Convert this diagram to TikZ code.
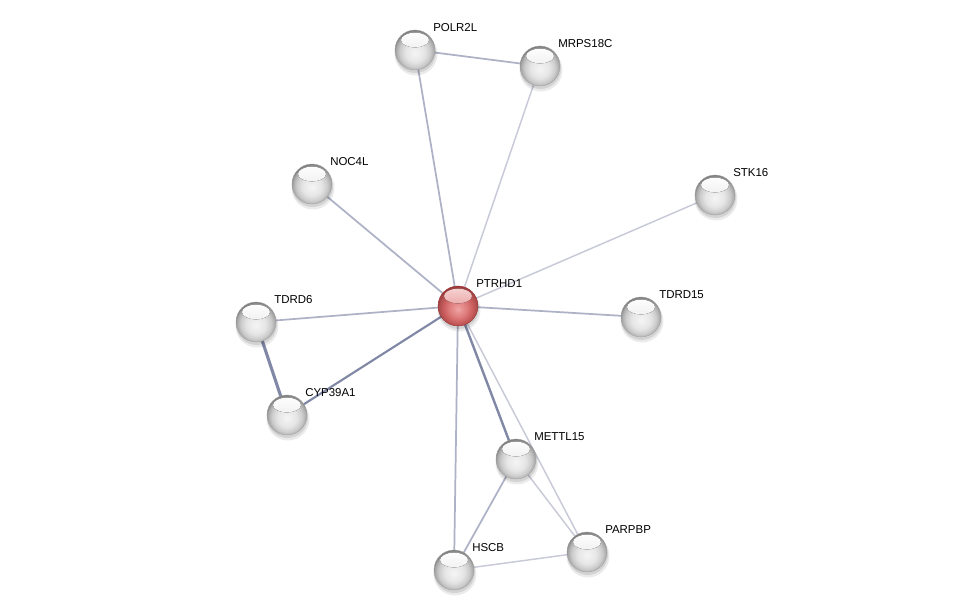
\documentclass[tikz,border=0pt]{standalone}
\usepackage{fontspec}
\setmainfont{Liberation Sans}
\pgfdeclareradialshading{gball}{\pgfpoint{0bp}{-4bp}}{%
color(0bp)=(black!4);color(12bp)=(black!10);color(19bp)=(black!20);color(24bp)=(black!34);
color(27bp)=(black!55);color(50bp)=(black!55)}
\definecolor{rrim}{HTML}{9A3434}
\definecolor{rout}{HTML}{C85A5A}
\definecolor{rmid}{HTML}{DC7878}
\definecolor{rin}{HTML}{F0A4A4}
\pgfdeclareradialshading{rball}{\pgfpoint{0bp}{-4bp}}{%
color(0bp)=(rin);color(12bp)=(rmid);color(19bp)=(rout);color(24bp)=(rout!85!black);
color(27bp)=(rrim);color(50bp)=(rrim)}
\definecolor{elight}{HTML}{C8CAD8}
\definecolor{emid}{HTML}{AEB2C6}
\definecolor{edark}{HTML}{8088A6}
\tikzset{
  prot/.style={circle,minimum size=30pt,inner sep=0pt,shading=gball,draw=black!35,line width=0.3pt,
    path picture={\fill[top color=white,bottom color=black!12]
      ([yshift=7.5pt]path picture bounding box.center) ellipse (10.5pt and 5.5pt);}},
  hub/.style={circle,minimum size=30pt,inner sep=0pt,shading=rball,draw=rrim,line width=0.3pt,
    path picture={\fill[top color=rin!45!white,bottom color=rmid]
      ([yshift=7.5pt]path picture bounding box.center) ellipse (10.5pt and 5.5pt);}},
  lab/.style={font=\fontsize{8.6pt}{10pt}\selectfont,anchor=west,inner sep=0pt},
  el/.style={draw=elight,line width=1.1pt},
  em/.style={draw=emid,line width=1.3pt},
  ed/.style={draw=edark,line width=1.8pt},
}
\begin{document}
\begin{tikzpicture}[x=0.75pt,y=-0.75pt]
\useasboundingbox (0,0) rectangle (976,615);
\fill[white] (0,0) rectangle (976,615);
% coordinates
\coordinate (cPOLR2L) at (415,50);
\coordinate (cMRPS18C) at (540,66);
\coordinate (cNOC4L) at (312,184);
\coordinate (cSTK16) at (715,195);
\coordinate (cPTRHD1) at (458,306);
\coordinate (cTDRD6) at (256,322);
\coordinate (cTDRD15) at (641,317);
\coordinate (cCYP39A1) at (287,415);
\coordinate (cMETTL15) at (516,459);
\coordinate (cPARPBP) at (587,552);
\coordinate (cHSCB) at (454,570);
% edges
\draw[em] (cPOLR2L) -- (cMRPS18C);
\draw[em] (cPOLR2L) -- (cPTRHD1);
\draw[el] (cMRPS18C) -- (cPTRHD1);
\draw[em] (cNOC4L) -- (cPTRHD1);
\draw[el] (cSTK16) -- (cPTRHD1);
\draw[em] (cTDRD6) -- (cPTRHD1);
\draw[em] (cTDRD15) -- (cPTRHD1);
\draw[ed,line width=1.6pt] (cCYP39A1) -- (cPTRHD1);
\draw[ed,line width=2.3pt] (cTDRD6) -- (cCYP39A1);
\draw[ed] (cPTRHD1) -- (cMETTL15);
\draw[em] (cPTRHD1) -- (cHSCB);
\draw[el] (cPTRHD1) -- (cPARPBP);
\draw[em] (cMETTL15) -- (cHSCB);
\draw[el] (cMETTL15) -- (cPARPBP);
\draw[el] (cHSCB) -- (cPARPBP);
% shadows
\foreach \n in {POLR2L,MRPS18C,NOC4L,STK16,PTRHD1,TDRD6,TDRD15,CYP39A1,METTL15,PARPBP,HSCB}{
  \fill[black,opacity=0.08] ([shift={(1,4)}]c\n) circle (21.5);
  \fill[black,opacity=0.10] ([shift={(0.5,2.5)}]c\n) circle (20.5);}
% nodes
\node[prot] (POLR2L) at (cPOLR2L) {};
\node[prot] (MRPS18C) at (cMRPS18C) {};
\node[prot] (NOC4L) at (cNOC4L) {};
\node[prot] (STK16) at (cSTK16) {};
\node[hub] (PTRHD1) at (cPTRHD1) {};
\node[prot] (TDRD6) at (cTDRD6) {};
\node[prot] (TDRD15) at (cTDRD15) {};
\node[prot] (CYP39A1) at (cCYP39A1) {};
\node[prot] (METTL15) at (cMETTL15) {};
\node[prot] (PARPBP) at (cPARPBP) {};
\node[prot] (HSCB) at (cHSCB) {};
% labels
\foreach \n in {POLR2L,MRPS18C,NOC4L,STK16,PTRHD1,TDRD6,TDRD15,CYP39A1,METTL15,PARPBP,HSCB}
  \node[lab] (l\n) at ([shift={(18,-22)}]c\n) {\n};
\end{tikzpicture}
\end{document}
